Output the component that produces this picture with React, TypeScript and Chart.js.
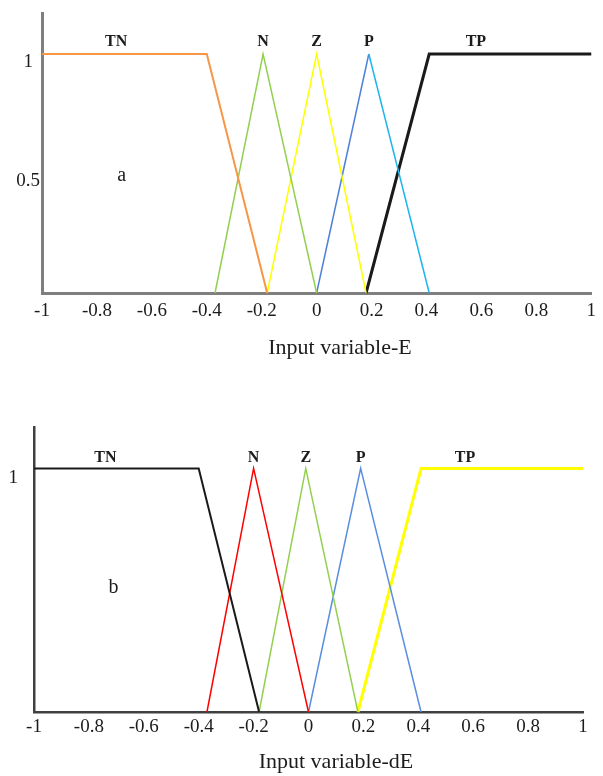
import { useEffect, useRef } from "react";
import { Chart, registerables } from "chart.js";

Chart.register(...registerables);

type Pt = { x: number; y: number };

// Universe of discourse shared by both inputs
const X_TICKS = [-1, -0.8, -0.6, -0.4, -0.2, 0, 0.2, 0.4, 0.6, 0.8, 1];
const Y_MAX = 1.17;
const SET_NAMES = ["TN", "N", "Z", "P", "TP"];

// Membership functions of input E
const E_TN: Pt[] = [{ x: -1, y: 1 }, { x: -0.4, y: 1 }, { x: -0.18, y: 0 }];
const E_N: Pt[] = [{ x: -0.37, y: 0 }, { x: -0.195, y: 1 }, { x: 0, y: 0 }];
const E_Z: Pt[] = [{ x: -0.18, y: 0 }, { x: 0, y: 1 }, { x: 0.18, y: 0 }];
const E_P: Pt[] = [{ x: 0, y: 0 }, { x: 0.19, y: 1 }, { x: 0.41, y: 0 }];
const E_TP: Pt[] = [{ x: 0.18, y: 0 }, { x: 0.41, y: 1 }, { x: 1, y: 1 }];
const E_Y_TICKS = [0.5, 1];
const E_NAME_X = [-0.73, -0.195, 0, 0.19, 0.58];

// Membership functions of input dE
const DE_TN: Pt[] = [{ x: -1, y: 1 }, { x: -0.4, y: 1 }, { x: -0.18, y: 0 }];
const DE_N: Pt[] = [{ x: -0.37, y: 0 }, { x: -0.2, y: 1 }, { x: 0, y: 0 }];
const DE_Z: Pt[] = [{ x: -0.18, y: 0 }, { x: -0.01, y: 1 }, { x: 0.18, y: 0 }];
const DE_P: Pt[] = [{ x: 0, y: 0 }, { x: 0.19, y: 1 }, { x: 0.41, y: 0 }];
const DE_TP: Pt[] = [{ x: 0.18, y: 0 }, { x: 0.41, y: 1 }, { x: 1, y: 1 }];
const DE_Y_TICKS = [1];
const DE_NAME_X = [-0.74, -0.2, -0.01, 0.19, 0.57];

const SERIF = "'Liberation Serif', 'Times New Roman', serif";
const TEXT = "#1c1c1c";

type SetStyle = { data: Pt[]; color: string | [string, string]; width: number };

type Panel = {
  top: number;
  height: number;
  padTop: number;
  padRight: number;
  yAxisWidth: number;
  xAxisHeight: number;
  axisColor: string;
  axisWidth: number;
  yTicks: number[];
  yTickPad: number;
  yLabelOffset: number;
  xTickPad: number;
  sets: SetStyle[];
  nameX: number[];
  nameY: number;
  tag: string;
  tagX: number;
  tagY: number;
  title: string;
  titleX: number;
  titleDy: number;
};

const PANELS: Panel[] = [
  {
    top: 0,
    height: 388,
    padTop: 11,
    padRight: 11,
    yAxisWidth: 42,
    xAxisHeight: 95,
    axisColor: "#7f7f7f",
    axisWidth: 3,
    yTicks: E_Y_TICKS,
    yTickPad: 2,
    yLabelOffset: 8,
    xTickPad: 7,
    sets: [
      { data: E_TN, color: "#f79646", width: 2 },
      { data: E_N, color: "#92d050", width: 1.5 },
      { data: E_Z, color: "#ffff00", width: 1.5 },
      { data: E_P, color: ["#4f81d9", "#1eb4f0"], width: 1.5 },
      { data: E_TP, color: "#1a1a1a", width: 3 },
    ],
    nameX: E_NAME_X,
    nameY: 1.05,
    tag: "a",
    tagX: -0.71,
    tagY: 0.49,
    title: "Input variable-E",
    titleX: 0.085,
    titleDy: 55,
  },
  {
    top: 388,
    height: 388,
    padTop: 39,
    padRight: 20,
    yAxisWidth: 34,
    xAxisHeight: 64,
    axisColor: "#404040",
    axisWidth: 2.5,
    yTicks: DE_Y_TICKS,
    yTickPad: 16,
    yLabelOffset: 10,
    xTickPad: 4,
    sets: [
      { data: DE_TN, color: "#1a1a1a", width: 2 },
      { data: DE_N, color: "#ff0000", width: 1.5 },
      { data: DE_Z, color: "#92d050", width: 1.5 },
      { data: DE_P, color: "#5b8ee0", width: 1.5 },
      { data: DE_TP, color: "#ffff00", width: 3 },
    ],
    nameX: DE_NAME_X,
    nameY: 1.045,
    tag: "b",
    tagX: -0.71,
    tagY: 0.51,
    title: "Input variable-dE",
    titleX: 0.1,
    titleDy: 50,
  },
];

const fmt = (v: number) => String(Math.round(v * 10) / 10);

function MembershipChart({ panel }: { panel: Panel }) {
  const ref = useRef<HTMLCanvasElement | null>(null);

  useEffect(() => {
    if (!ref.current) return;

    // set names, panel letter and axis caption
    const annotate = {
      id: "annotate",
      afterDatasetsDraw(chart: any) {
        const { ctx, chartArea } = chart;
        const x = chart.scales.x;
        const y = chart.scales.y;
        ctx.save();
        ctx.fillStyle = TEXT;
        ctx.textAlign = "center";
        ctx.textBaseline = "middle";
        ctx.font = `bold 16px ${SERIF}`;
        SET_NAMES.forEach((n, i) => {
          ctx.fillText(n, x.getPixelForValue(panel.nameX[i]), y.getPixelForValue(panel.nameY));
        });
        ctx.font = `20px ${SERIF}`;
        ctx.fillText(panel.tag, x.getPixelForValue(panel.tagX), y.getPixelForValue(panel.tagY));
        ctx.font = `22px ${SERIF}`;
        ctx.fillText(panel.title, x.getPixelForValue(panel.titleX), chartArea.bottom + panel.titleDy);
        ctx.restore();
      },
    };

    const chart = new Chart(ref.current, {
      type: "line",
      data: {
        datasets: panel.sets.map((s, i) => ({
          label: SET_NAMES[i],
          data: s.data,
          borderColor: Array.isArray(s.color) ? s.color[0] : s.color,
          segment: Array.isArray(s.color)
            ? { borderColor: (c: any) => (s.color as string[])[c.p0DataIndex === 0 ? 0 : 1] }
            : undefined,
          borderWidth: s.width,
          pointRadius: 0,
          tension: 0,
          fill: false,
          clip: false as any,
        })),
      },
      options: {
        animation: false,
        responsive: false,
        devicePixelRatio: 1,
        layout: { padding: { top: panel.padTop, right: panel.padRight, left: 0, bottom: 0 } },
        plugins: { legend: { display: false }, tooltip: { enabled: false } },
        scales: {
          x: {
            type: "linear",
            min: -1,
            max: 1,
            afterBuildTicks: (s: any) => {
              s.ticks = X_TICKS.map((v) => ({ value: v }));
            },
            afterFit: (s: any) => {
              s.height = panel.xAxisHeight;
            },
            grid: { display: false, drawTicks: false },
            border: { display: true, color: panel.axisColor, width: panel.axisWidth },
            ticks: {
              callback: (v: any) => fmt(Number(v)),
              font: { family: SERIF, size: 19 },
              color: TEXT,
              padding: panel.xTickPad,
              maxRotation: 0,
              autoSkip: false,
            },
          },
          y: {
            type: "linear",
            min: 0,
            max: Y_MAX,
            afterBuildTicks: (s: any) => {
              s.ticks = panel.yTicks.map((v) => ({ value: v }));
            },
            afterFit: (s: any) => {
              s.width = panel.yAxisWidth;
            },
            grid: { display: false, drawTicks: false },
            border: { display: true, color: panel.axisColor, width: panel.axisWidth },
            ticks: {
              callback: (v: any) => fmt(Number(v)),
              font: { family: SERIF, size: 19 },
              color: TEXT,
              padding: panel.yTickPad,
              crossAlign: "center",
              labelOffset: panel.yLabelOffset,
            },
          },
        },
      },
      plugins: [annotate],
    } as any);

    return () => chart.destroy();
  }, [panel]);

  return (
    <canvas
      ref={ref}
      width={603}
      height={panel.height}
      style={{ position: "absolute", left: 0, top: panel.top, width: 603, height: panel.height }}
    />
  );
}

export default function App() {
  return (
    <div style={{ position: "absolute", left: 0, top: 0, width: 603, height: 776, background: "#fff" }}>
      {PANELS.map((p) => (
        <MembershipChart key={p.tag} panel={p} />
      ))}
    </div>
  );
}
